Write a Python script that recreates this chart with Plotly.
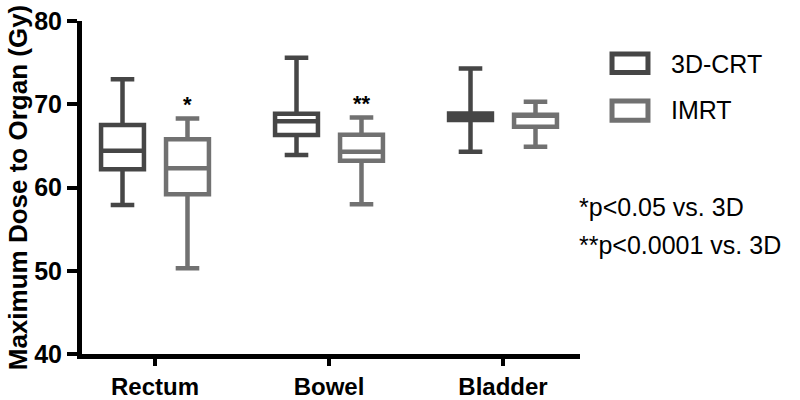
import plotly.graph_objects as go

# organs on the x axis
organs = ["Rectum", "Bowel", "Bladder"]

# box summary values (Gy)
crt_low = [57.9, 63.9, 64.3]
crt_q1 = [62.2, 66.3, 68.1]
crt_med = [64.4, 67.95, 68.5]
crt_q3 = [67.5, 68.85, 68.9]
crt_high = [73.0, 75.6, 74.3]

imrt_low = [50.3, 58.0, 64.9]
imrt_q1 = [59.2, 63.2, 67.3]
imrt_med = [62.3, 64.3, 68.7]
imrt_q3 = [65.8, 66.35, 68.75]
imrt_high = [68.3, 68.4, 70.3]

# significance marks above the IMRT boxes
stars = ["*", "**", ""]
notes = ["*p<0.05 vs. 3D", "**p<0.0001 vs. 3D"]

FONT = "Liberation Sans, Arial, Helvetica, sans-serif"
DARK = "#464646"
LIGHT = "#717171"

fig = go.Figure()
fig.add_trace(go.Box(
    x=organs, q1=crt_q1, median=crt_med, q3=crt_q3,
    lowerfence=crt_low, upperfence=crt_high,
    name="3D-CRT", line=dict(color=DARK, width=4.5), fillcolor="white",
    whiskerwidth=0.55, boxpoints=False, showlegend=False,
))
fig.add_trace(go.Box(
    x=organs, q1=imrt_q1, median=imrt_med, q3=imrt_q3,
    lowerfence=imrt_low, upperfence=imrt_high,
    name="IMRT", line=dict(color=LIGHT, width=4.5), fillcolor="white",
    whiskerwidth=0.55, boxpoints=False, showlegend=False,
))

# asterisks over the IMRT boxes
for organ, s, top in zip(organs, stars, imrt_high):
    if s:
        fig.add_annotation(x=organ, y=top, text=s, showarrow=False,
                           xshift=32.5, yshift=14, yanchor="middle",
                           font=dict(family=FONT, size=22, color="black", weight="bold"))

# hand-made legend to the right of the plot
for (name, col, y0, y1, ty) in [("3D-CRT", DARK, 0.8451, 0.9008, 0.8707),
                                ("IMRT", LIGHT, 0.7023, 0.7594, 0.7323)]:
    fig.add_shape(type="rect", xref="paper", yref="paper",
                  x0=1.0643, x1=1.1365, y0=y0, y1=y1,
                  line=dict(color=col, width=5), fillcolor="white")
    fig.add_annotation(xref="paper", yref="paper", x=1.1787, y=ty, text=name,
                       showarrow=False, xanchor="left", yanchor="middle",
                       font=dict(family=FONT, size=25, color="black"))

for txt, ty in zip(notes, [0.4406, 0.3263]):
    fig.add_annotation(xref="paper", yref="paper", x=0.994, y=ty, text=txt,
                       showarrow=False, xanchor="left", yanchor="middle",
                       font=dict(family=FONT, size=25, color="black"))

fig.update_layout(
    width=800, height=400,
    margin=dict(l=82, r=220, t=21, b=46),
    paper_bgcolor="white", plot_bgcolor="white",
    boxmode="group", boxgap=0.253, boxgroupgap=0.34,
    font=dict(family=FONT, color="black"),
)
fig.update_xaxes(
    range=[-0.4195, 2.4425], showline=True, linewidth=5, linecolor="black",
    ticks="outside", ticklen=7, tickwidth=4, tickcolor="black",
    showgrid=False, zeroline=False, automargin=False,
    tickfont=dict(family=FONT, size=24, color="black", weight="bold"),
)
fig.update_yaxes(
    range=[40, 80], tickvals=[40, 50, 60, 70, 80],
    showline=True, linewidth=5, linecolor="black",
    ticks="outside", ticklen=10, tickwidth=4, tickcolor="black",
    showgrid=False, zeroline=False, automargin=False,
    tickfont=dict(family=FONT, size=25, color="black", weight="bold"),
    title=dict(text="Maximum Dose to Organ (Gy)", standoff=1,
               font=dict(family=FONT, size=26, color="black", weight="bold")),
)

# the page's default body margin would shift the whole figure
fig.write_html("out.html", config={"displayModeBar": False},
               post_script="document.body.style.margin='0';")
